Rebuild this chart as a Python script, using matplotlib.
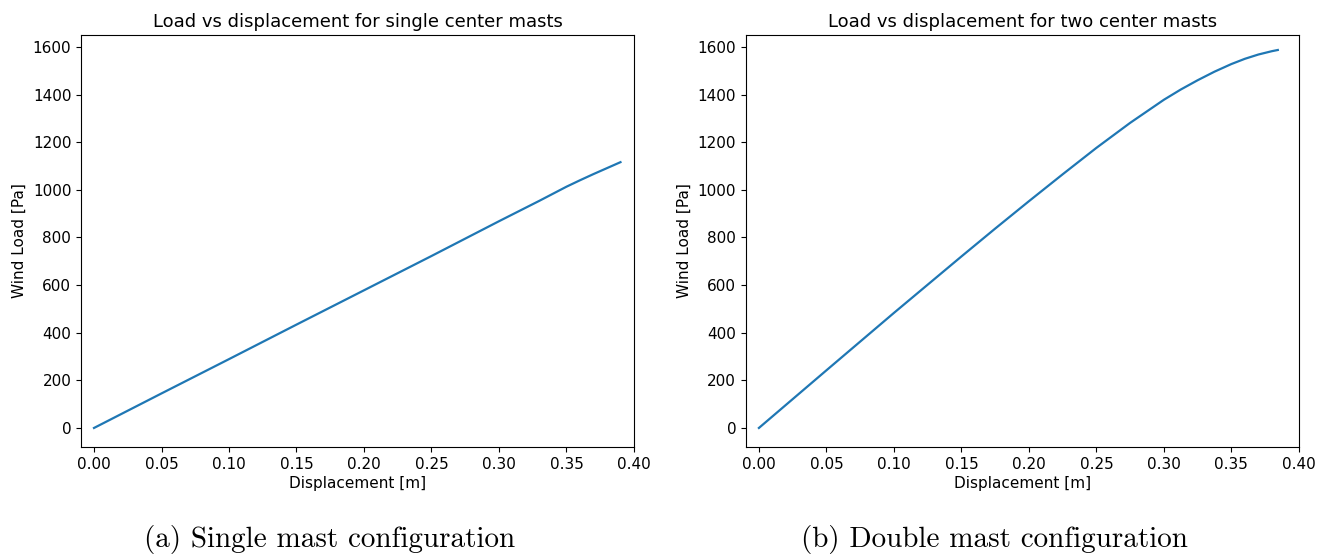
import matplotlib
matplotlib.use("Agg")
import matplotlib.pyplot as plt

# single center mast
disp_single = [0.0, 0.05, 0.10, 0.15, 0.20, 0.25, 0.30, 0.33, 0.35, 0.36, 0.37, 0.38, 0.390]
load_single = [0, 145, 289, 434, 578, 722, 868, 954, 1013, 1040, 1066, 1091, 1116]

# two center masts
disp_double = [0.0, 0.05, 0.10, 0.15, 0.175, 0.20, 0.225, 0.25, 0.275, 0.30,
               0.3125, 0.325, 0.3375, 0.35, 0.36, 0.37, 0.38, 0.3844]
load_double = [0, 242, 483, 720, 837, 952, 1065, 1176, 1281, 1378,
               1421, 1460, 1496, 1528, 1550, 1568, 1582, 1587]

titles = ["Load vs displacement for single center masts",
          "Load vs displacement for two center masts"]
captions = ["(a) Single mast configuration", "(b) Double mast configuration"]

plt.rcParams["font.size"] = 11

fig = plt.figure(figsize=(13.33, 5.58), dpi=100)
ax1 = fig.add_axes([0.0608, 0.1989, 0.4148, 0.7384])
ax2 = fig.add_axes([0.5596, 0.1989, 0.4148, 0.7384])

for ax, x, y, t, cap in zip([ax1, ax2], [disp_single, disp_double],
                            [load_single, load_double], titles, captions):
    ax.plot(x, y, color="tab:blue", lw=1.6)
    ax.set_xlim(-0.0096, 0.40)
    ax.set_ylim(-80, 1650)
    ax.set_xticks([0.0, 0.05, 0.10, 0.15, 0.20, 0.25, 0.30, 0.35, 0.40])
    ax.set_xticklabels(["0.00", "0.05", "0.10", "0.15", "0.20", "0.25", "0.30", "0.35", "0.40"])
    ax.set_yticks(range(0, 1601, 200))
    ax.set_title(t, fontsize=13)
    ax.set_xlabel("Displacement [m]", labelpad=3)
    ax.set_ylabel("Wind Load [Pa]")
    ax.text(0.45, -0.225, cap, transform=ax.transAxes, ha="center", va="center",
            fontsize=21, family="cmr10")

fig.savefig("out.png", dpi=100)
